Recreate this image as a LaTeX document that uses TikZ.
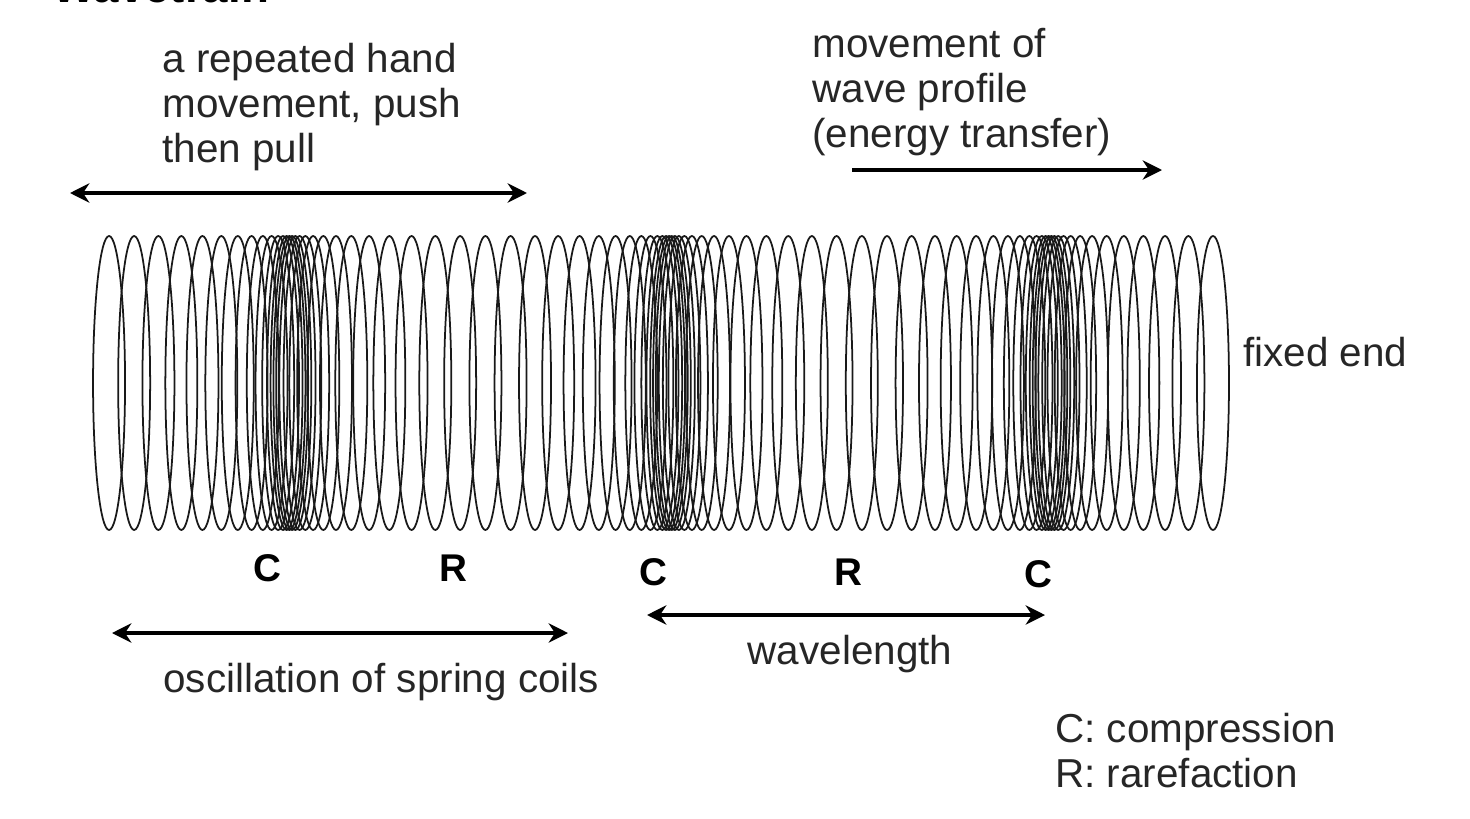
\documentclass[tikz,border=0pt]{standalone}
\usepackage{fontspec}
\setmainfont{Liberation Sans}
\usetikzlibrary{arrows.meta}
\begin{document}
\begin{tikzpicture}[x=0.02cm,y=-0.02cm,
  lbl/.style={font=\fontsize{23}{25.5}\selectfont,align=left,inner sep=0,text=black!85},
  cr/.style={font=\fontsize{22}{25}\selectfont\bfseries,inner sep=0},
  arr/.style={line width=2.4pt,{Stealth[length=11pt,width=11pt]}-{Stealth[length=11pt,width=11pt]}},
  rarr/.style={line width=2.4pt,-{Stealth[length=11pt,width=11pt]}},
  coil/.style={line width=1pt,draw=black!90}]
\useasboundingbox (0,0) rectangle (1470,818);
\node[anchor=base west,font=\fontsize{26}{30}\selectfont\bfseries,inner sep=0] (title) at (52,3) {Wavetrain};
% spring
\foreach \i in {0,...,80}{
  \pgfmathsetmacro{\u}{105+14*\i}
  \pgfmathsetmacro{\ang}{(\u-290)/380*360}
  \pgfmathsetmacro{\xx}{\u-49*sin(\ang)}
  \draw[coil] (\xx,383) ellipse [x radius=16,y radius=147];
}
% top left
\node[lbl,anchor=north west] (hand) at (162,43) {a repeated hand\\movement, push\\then pull};
\coordinate (h1) at (70,193); \coordinate (h2) at (527,193);
\draw[arr] (h1) -- (h2);
\node[lbl,anchor=north west] (wp) at (812,28) {movement of\\wave profile\\(energy transfer)};
\coordinate (w1) at (852,170); \coordinate (w2) at (1162,170);
\draw[rarr] (w1) -- (w2);
\node[lbl,anchor=west] (fe) at (1243,352) {fixed end};
\node[cr] (c1) at (267,568) {C};
\node[cr] (r1) at (453,568) {R};
\node[cr] (c2) at (653,572) {C};
\node[cr] (r2) at (848,572) {R};
\node[cr] (c3) at (1038,574) {C};
\coordinate (o1) at (112,633); \coordinate (o2) at (568,633);
\draw[arr] (o1) -- (o2);
\node[lbl,anchor=west] (osc) at (163,682) {oscillation of spring coils};
\coordinate (l1) at (647,615); \coordinate (l2) at (1045,615);
\draw[arr] (l1) -- (l2);
\node[lbl] (wl) at (850,654) {wavelength};
\node[lbl,anchor=north west] (key) at (1055,713) {C: compression\\R: rarefaction};
\end{tikzpicture}
\end{document}
